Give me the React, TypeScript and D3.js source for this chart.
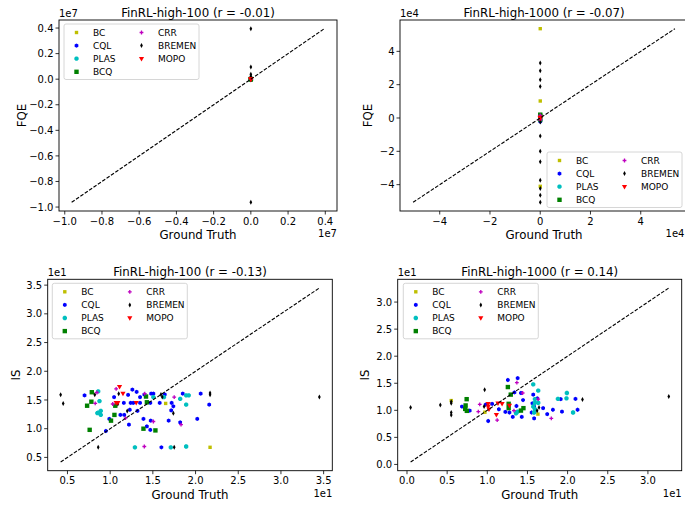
import React from 'react';
import * as d3 from 'd3';

type Pt = [number, number];

const METHODS = ['BC', 'CQL', 'PLAS', 'BCQ', 'CRR', 'BREMEN', 'MOPO'];
const COLORS = ['#bfbf00', '#0000ff', '#00bfbf', '#008000', '#bf00bf', '#000000', '#ff0000'];

// ---------- Panel 1: FinRL-high-100, FQE ----------
const fqe100BC: Pt[] = [[16.5, 1.2e4], [21.7, -3.5e4]];
const fqe100CQL: Pt[] = [[7.0, 2.1e3], [10.5, -8.0e3], [12.1, 5.5e3], [14.8, 1.5e4], [16.0, -2.0e4], [20.6, 9.0e3]];
const fqe100PLAS: Pt[] = [[8.6, 4.0e3], [15.1, -1.1e4], [18.9, 2.6e4]];
const fqe100BCQ: Pt[] = [[7.8, 3.1e3], [10.6, -6.0e3], [14.2, 1.8e4]];
const fqe100CRR: Pt[] = [[8.5, 2.4e3], [14.0, -4.2e3], [18.3, 7.7e3]];
const fqe100BREMEN: Pt[] = [[4.2, 3.95e6], [8.2, 9.6e5], [11.0, 3.9e5], [16.0, 2.3e5], [17.4, 6.0e4], [21.7, -4.0e4], [34.5, -9.63e6]];
const fqe100MOPO: Pt[] = [[11.1, 1.8e4], [10.7, -2.5e4], [13.05, 6.0e3]];

// ---------- Panel 2: FinRL-high-1000, FQE ----------
const fqe1000BC: Pt[] = [[5.5, 5.36e4], [9.7, 1.02e4], [16.3, -4.1e4]];
const fqe1000CQL: Pt[] = [[6.8, 1.5e3], [12.6, -2.2e3], [15.8, 800], [19.1, -600]];
const fqe1000PLAS: Pt[] = [[15.7, 1.1e3], [19.9, -1.4e3], [13.6, 500]];
const fqe1000BCQ: Pt[] = [[7.4, 2.0e3], [12.9, -900], [14.5, 1.3e3]];
const fqe1000CRR: Pt[] = [[9.1, -700], [13.7, 1.6e3], [18.0, -1.2e3]];
const fqe1000BREMEN: Pt[] = [[0.45, 3.30e4], [4.15, 2.83e4], [5.5, 2.29e4], [5.5, 1.89e4], [5.5, -1.08e4], [5.5, -1.99e4], [9.7, -2.63e4], [9.6, -3.73e4], [16.2, -4.23e4], [16.4, -4.64e4], [21.9, -5.06e4], [32.6, -2.4e3]];
const fqe1000MOPO: Pt[] = [[10.1, 300], [11.3, -200], [12.8, 100]];

// ---------- Panel 3: FinRL-high-100, IS ----------
const is100BC: Pt[] = [[16.5, 14.4], [21.7, 6.76]];
const is100CQL: Pt[] = [[7.0, 15.8], [10.46, 15.5], [12.1, 15.9], [11.6, 14.5], [12.6, 16.8], [13.1, 16.4], [12.4, 14.5], [12.7, 14.5], [13.2, 13.1], [12.3, 13.3], [11.2, 12.4], [11.65, 12.4], [9.9, 11.7], [9.5, 9.6], [12.2, 10.7], [13.5, 15.5], [14.0, 15.95], [14.8, 16.1], [15.06, 16.1], [13.5, 14.5], [14.7, 14.5], [15.8, 14.5], [16.4, 15.95], [17.2, 14.5], [17.4, 13.9], [17.15, 13.2], [13.9, 11.7], [14.75, 11.4], [14.3, 10.4], [14.7, 9.8], [16.85, 11.4], [18.2, 11.1], [18.5, 16.1], [20.6, 16.1], [21.6, 14.2], [20.2, 11.7], [16.0, 6.76]];
const is100PLAS: Pt[] = [[8.6, 16.5], [8.75, 14.8], [8.6, 12.8], [8.9, 13.1], [8.9, 12.4], [8.5, 12.7], [15.06, 15.5], [18.2, 15.2], [18.9, 15.8], [19.2, 15.8], [18.9, 14.2], [16.3, 15.5], [12.9, 6.76], [17.1, 6.76], [18.9, 6.9]];
const is100BCQ: Pt[] = [[7.85, 16.35], [7.8, 14.7], [7.3, 14.0], [10.6, 14.0], [10.5, 12.4], [10.1, 11.4], [7.6, 9.8], [13.9, 10.0], [15.3, 9.7], [14.2, 15.6], [14.3, 14.6]];
const is100CRR: Pt[] = [[8.45, 16.3], [8.25, 14.4], [10.7, 16.95], [10.3, 14.3], [14.05, 16.1], [15.06, 11.25], [17.5, 15.5], [18.3, 10.7], [14.0, 6.9], [11.8, 11.85]];
const is100BREMEN: Pt[] = [[4.2, 15.9], [4.5, 14.4], [8.2, 15.9], [8.6, 6.76], [11.0, 16.1], [10.9, 14.3], [12.0, 13.1], [15.95, 15.95], [16.1, 15.5], [17.4, 12.7], [17.5, 6.76], [21.7, 16.2], [21.7, 15.9], [34.5, 15.5]];
const is100MOPO: Pt[] = [[11.1, 17.3], [11.5, 16.1], [10.7, 14.5], [10.9, 14.5], [13.05, 14.5]];

// ---------- Panel 4: FinRL-high-1000, IS ----------
const is1000BC: Pt[] = [[5.51, 11.8], [9.7, 9.65], [16.3, 9.3]];
const is1000CQL: Pt[] = [[6.84, 10.7], [7.81, 9.95], [10.11, 8.03], [9.8, 11.06], [10.6, 11.2], [11.44, 10.2], [12.25, 9.7], [12.56, 15.6], [13.78, 15.95], [13.38, 13.3], [14.19, 13.2], [14.45, 11.9], [12.76, 9.6], [13.17, 8.8], [14.29, 8.8], [13.63, 10.8], [15.62, 11.3], [15.72, 12.9], [15.83, 10.7], [15.52, 9.6], [16.23, 12.2], [16.95, 10.4], [18.17, 10.1], [19.3, 9.76], [19.14, 12.06], [20.98, 12.1], [21.24, 10.1], [17.46, 9.3], [15.83, 8.5]];
const is1000PLAS: Pt[] = [[15.72, 14.8], [16.34, 13.65], [15.93, 12.06], [15.93, 11.4], [16.34, 11.4], [15.72, 10.7], [15.93, 10.2], [13.58, 9.46], [13.78, 9.76], [18.79, 12.1], [19.86, 12.2], [19.91, 13.2], [20.68, 9.6], [15.83, 9.6]];
const is1000BCQ: Pt[] = [[7.43, 12.06], [7.3, 10.9], [7.25, 10.26], [7.45, 9.9], [12.56, 14.3], [12.92, 12.9], [12.66, 11.2], [12.66, 10.4], [14.19, 9.95], [14.5, 10.4]];
const is1000CRR: Pt[] = [[9.06, 11.1], [8.88, 9.76], [13.68, 15.1], [14.4, 13.2], [11.23, 8.2], [16.34, 12.06], [17.97, 8.5], [13.32, 9.95]];
const is1000BREMEN: Pt[] = [[0.45, 10.5], [4.15, 11.0], [5.51, 11.6], [5.51, 11.3], [5.51, 9.6], [5.51, 9.15], [9.67, 13.8], [9.6, 10.7], [16.2, 9.9], [16.44, 10.5], [21.85, 12.0], [32.6, 12.55]];
const is1000MOPO: Pt[] = [[10.11, 10.7], [10.11, 11.2], [10.21, 10.2], [11.33, 11.3], [11.84, 11.2], [11.13, 9.15], [12.76, 10.9]];

// ---------- Tick labels (display units, multiplied by 10^exp) ----------
const ticksFqe100 = [-1.0, -0.8, -0.6, -0.4, -0.2, 0.0, 0.2, 0.4];
const ticksFqe1000 = [-4, -2, 0, 2, 4];
const ticksIs100 = [0.5, 1.0, 1.5, 2.0, 2.5, 3.0, 3.5];
const ticksIs1000 = [0.0, 0.5, 1.0, 1.5, 2.0, 2.5, 3.0];

const titles = ['FinRL-high-100 (r = -0.01)', 'FinRL-high-1000 (r = -0.07)', 'FinRL-high-100 (r = -0.13)', 'FinRL-high-1000 (r = 0.14)'];

const panels = [
  { title: titles[0], ylabel: 'FQE', exp: 7, ticks: ticksFqe100, fmt: '.1f', box: { x0: 59, x1: 337, y0: 20, y1: 211 }, legend: { x: 64, y: 24 },
    series: [fqe100BC, fqe100CQL, fqe100PLAS, fqe100BCQ, fqe100CRR, fqe100BREMEN, fqe100MOPO], ylabX: 26.3, offX: 337 },
  { title: titles[1], ylabel: 'FQE', exp: 4, ticks: ticksFqe1000, fmt: 'd', box: { x0: 400, x1: 688, y0: 20, y1: 211 }, legend: { x: 547, y: 152 },
    series: [fqe1000BC, fqe1000CQL, fqe1000PLAS, fqe1000BCQ, fqe1000CRR, fqe1000BREMEN, fqe1000MOPO], ylabX: 372.3, offX: 684.5 },
  { title: titles[2], ylabel: 'IS', exp: 1, ticks: ticksIs100, fmt: '.1f', box: { x0: 47.7, x1: 332.3, y0: 279.3, y1: 470.7 }, legend: { x: 52.3, y: 283.3 },
    series: [is100BC, is100CQL, is100PLAS, is100BCQ, is100CRR, is100BREMEN, is100MOPO], ylabX: 19.5, offX: 332.3 },
  { title: titles[3], ylabel: 'IS', exp: 1, ticks: ticksIs1000, fmt: '.1f', box: { x0: 397.7, x1: 681.7, y0: 279.3, y1: 470.7 }, legend: { x: 403.3, y: 283.3 },
    series: [is1000BC, is1000CQL, is1000PLAS, is1000BCQ, is1000CRR, is1000BREMEN, is1000MOPO], ylabX: 368.5, offX: 681.7 },
];

function poly(n: number, r: number, rot: number, cx: number, cy: number): string {
  const pts: string[] = [];
  for (let i = 0; i < n; i++) {
    const a = rot + (i * 2 * Math.PI) / n;
    pts.push(`${(cx + r * Math.sin(a)).toFixed(2)},${(cy - r * Math.cos(a)).toFixed(2)}`);
  }
  return 'M' + pts.join('L') + 'Z';
}

function markerPath(k: number, cx: number, cy: number): string {
  switch (k) {
    case 0: { const h = 1.7; return `M${cx - h},${cy - h}h${2 * h}v${2 * h}h${-2 * h}Z`; }
    case 1: return poly(6, 2.15, 0, cx, cy);
    case 2: return poly(8, 2.35, Math.PI / 8, cx, cy);
    case 3: { const h = 2.2; return `M${cx - h},${cy - h}h${2 * h}v${2 * h}h${-2 * h}Z`; }
    case 4: {
      const a = 1.9, t = 0.65;
      return `M${cx - t},${cy - a}H${cx + t}V${cy - t}H${cx + a}V${cy + t}H${cx + t}V${cy + a}H${cx - t}V${cy + t}H${cx - a}V${cy - t}H${cx - t}Z`;
    }
    case 5: return `M${cx},${cy - 2.5}L${cx + 1.35},${cy}L${cx},${cy + 2.5}L${cx - 1.35},${cy}Z`;
    default: return `M${cx - 2.6},${cy - 1.8}L${cx + 2.6},${cy - 1.8}L${cx},${cy + 2.7}Z`;
  }
}

const FONT = 'DejaVu Sans, sans-serif';

function Panel({ p }: { p: (typeof panels)[number] }) {
  const { box } = p;
  const all: number[] = [];
  p.series.forEach((s) => s.forEach(([a, b]) => { all.push(a); all.push(b); }));
  const lo = d3.min(all) as number;
  const hi = d3.max(all) as number;
  const m = 0.05 * (hi - lo);
  const x = d3.scaleLinear().domain([lo - m, hi + m]).range([box.x0, box.x1]);
  const y = d3.scaleLinear().domain([lo - m, hi + m]).range([box.y1, box.y0]);
  const mult = Math.pow(10, p.exp);
  const f = d3.format(p.fmt);
  const lab = (v: number) => f(v).replace('-', '\u2212');
  const line = d3.line<Pt>().x((d) => x(d[0])).y((d) => y(d[1]));
  const lg = p.legend;
  return (
    <g>
      {p.series.map((s, k) => (
        <g key={k} fill={COLORS[k]}>
          {s.map((d, i) => <path key={i} d={markerPath(k, x(d[0]), y(d[1]))} />)}
        </g>
      ))}
      <path d={line([[lo, lo], [hi, hi]]) || ''} stroke="#000" strokeWidth={1.1} strokeDasharray="3.7,1.6" fill="none" />
      <rect x={box.x0} y={box.y0} width={box.x1 - box.x0} height={box.y1 - box.y0} fill="none" stroke="#000" strokeWidth={0.9} />
      {p.ticks.map((t, i) => (
        <g key={'x' + i}>
          <line x1={x(t * mult)} x2={x(t * mult)} y1={box.y1} y2={box.y1 + 3.5} stroke="#000" strokeWidth={0.8} />
          <text x={x(t * mult)} y={box.y1 + 13.6} fontSize={10} textAnchor="middle">{lab(t)}</text>
        </g>
      ))}
      {p.ticks.map((t, i) => (
        <g key={'y' + i}>
          <line x1={box.x0 - 3.5} x2={box.x0} y1={y(t * mult)} y2={y(t * mult)} stroke="#000" strokeWidth={0.8} />
          <text x={box.x0 - 5.5} y={y(t * mult) + 3.6} fontSize={10} textAnchor="end">{lab(t)}</text>
        </g>
      ))}
      <text x={box.x0} y={box.y0 - 3.5} fontSize={10}>{`1e${p.exp}`}</text>
      <text x={p.offX} y={box.y1 + 26} fontSize={10} textAnchor="end">{`1e${p.exp}`}</text>
      <text x={(box.x0 + box.x1) / 2} y={box.y1 + 28} fontSize={11.8} textAnchor="middle">Ground Truth</text>
      <text x={(box.x0 + box.x1) / 2} y={box.y0 - 3.4} fontSize={11.8} textAnchor="middle">{p.title}</text>
      <text transform={`translate(${p.ylabX},${(box.y0 + box.y1) / 2}) rotate(-90)`} fontSize={11.8} textAnchor="middle">{p.ylabel}</text>
      <rect x={lg.x} y={lg.y} width={135} height={55.5} rx={2} fill="#fff" fillOpacity={0.8} stroke="#cccccc" strokeWidth={0.8} />
      {METHODS.map((name, k) => {
        const col = k < 4 ? 0 : 1;
        const row = k < 4 ? k : k - 4;
        const cy = lg.y + 8.5 + row * 13.1;
        const mx = lg.x + (col ? 77.5 : 12.5);
        const tx = lg.x + (col ? 94 : 29);
        return (
          <g key={name}>
            <path d={markerPath(k, mx, cy)} fill={COLORS[k]} />
            <text x={tx} y={cy + 3.3} fontSize={9}>{name}</text>
          </g>
        );
      })}
    </g>
  );
}

export default function App() {
  return (
    <svg width={685} height={505} style={{ position: 'absolute', left: 0, top: 0, background: '#fff' }} fontFamily={FONT}>
      <rect x={0} y={0} width={685} height={505} fill="#fff" />
      {panels.map((p, i) => <Panel key={i} p={p} />)}
    </svg>
  );
}
